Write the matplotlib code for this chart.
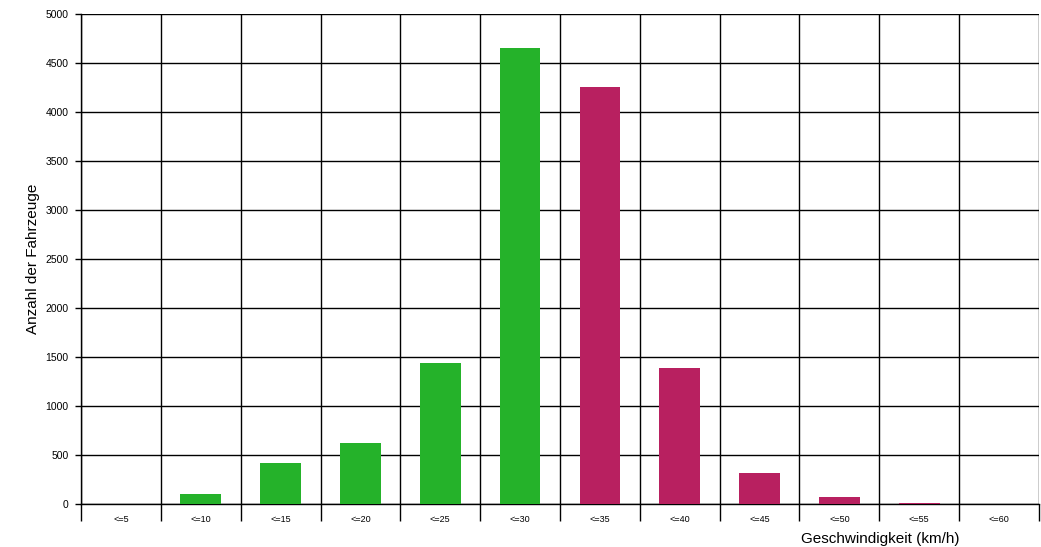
import matplotlib
matplotlib.use("Agg")
import matplotlib.pyplot as plt
import numpy as np

# Speed classes and vehicle counts
categories = ["<=5", "<=10", "<=15", "<=20", "<=25", "<=30",
              "<=35", "<=40", "<=45", "<=50", "<=55", "<=60"]
counts = [0, 102, 418, 622, 1440, 4655, 4255, 1390, 318, 72, 10, 0]
# first six classes green, the rest magenta
colours = ["#25b22a"] * 6 + ["#b82060"] * 6

plt.rcParams['font.family'] = ['Liberation Sans', 'DejaVu Sans']

fig = plt.figure(figsize=(10.41, 5.47), dpi=100)
ax = fig.add_axes([81 / 1041, 1 - 504 / 547, 958 / 1041, 490 / 547])

x = np.arange(len(categories))
ax.bar(x, counts, width=0.51, color=colours, zorder=3)

ax.set_xlim(-0.5, len(categories) - 0.5)
ax.set_ylim(0, 5000)
ax.set_yticks(np.arange(0, 5001, 500))
ax.tick_params(axis='y', labelsize=7.5, length=4, width=1, pad=5)

# boundaries as major ticks (no labels), names at centres as minor ticks
ax.set_xticks(np.arange(-0.5, len(categories), 1.0))
ax.set_xticklabels([])
ax.set_xticks(x, minor=True)
ax.set_xticklabels(categories, minor=True)
ax.tick_params(axis='x', which='major', length=12, width=1)
ax.tick_params(axis='x', which='minor', length=0, labelsize=6.5, pad=8)

ax.grid(True, which='major', color='black', linewidth=1, zorder=1)
for s in ['top', 'right']:
    ax.spines[s].set_visible(False)
ax.spines['left'].set_linewidth(1)
ax.spines['bottom'].set_linewidth(1)

ax.set_ylabel("Anzahl der Fahrzeuge", fontsize=11, labelpad=4)
fig.text(880 / 1041, 1 - 539 / 547, "Geschwindigkeit (km/h)", fontsize=11,
         ha='center', va='center')

fig.savefig("out.png", dpi=100)
